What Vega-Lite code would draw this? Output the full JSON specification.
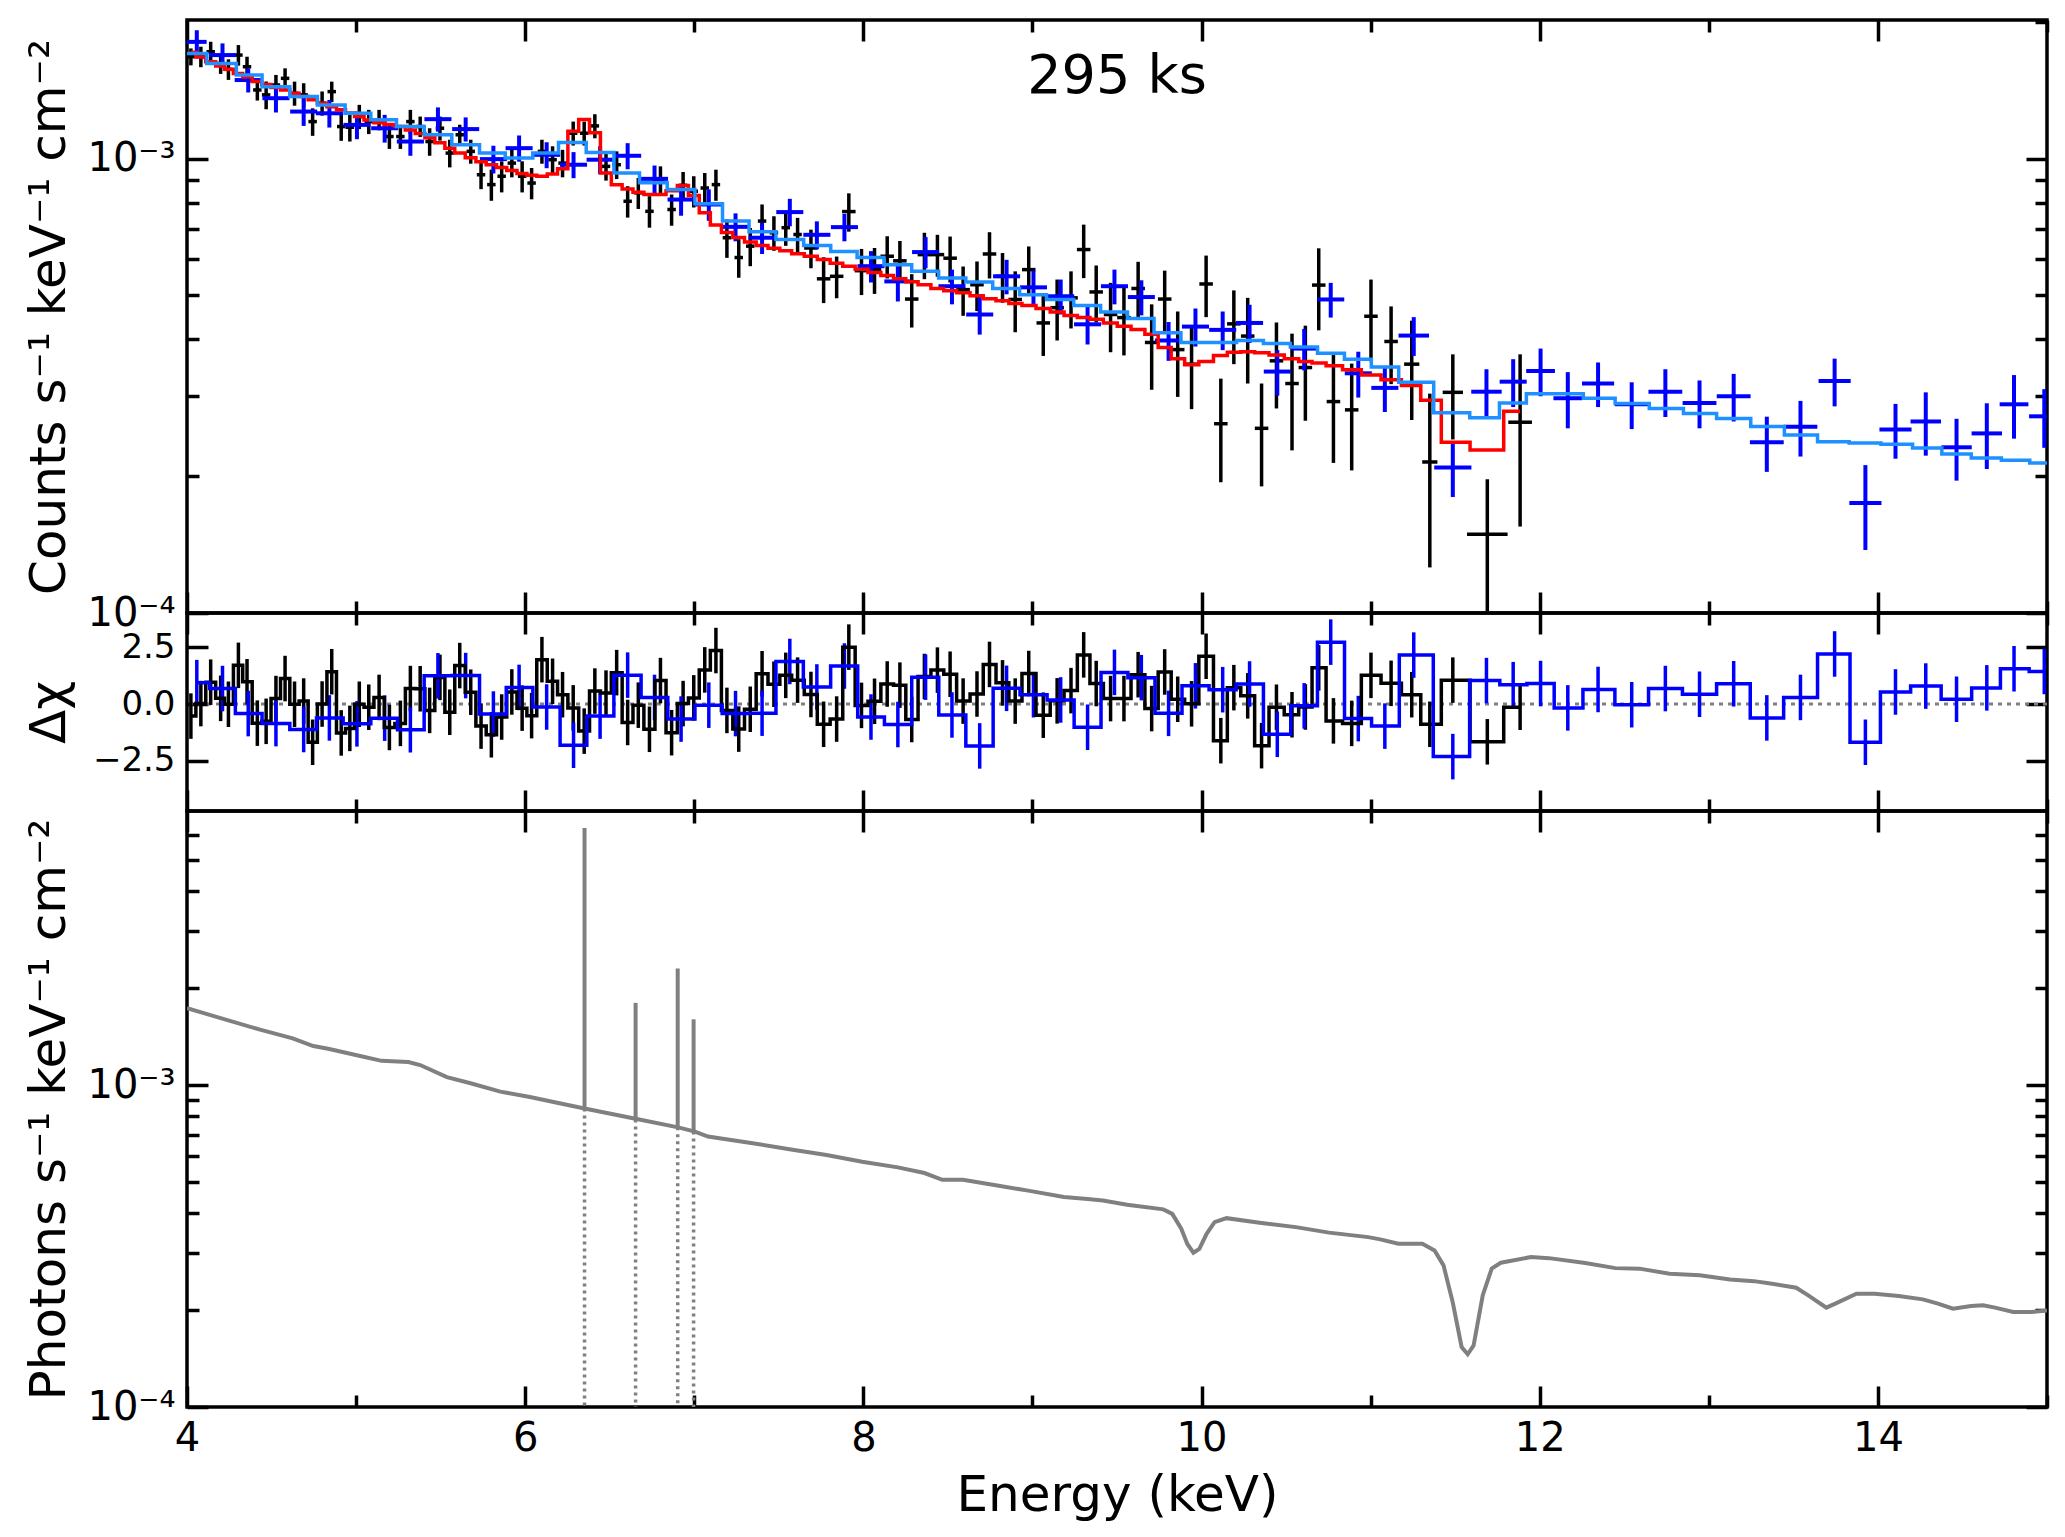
{
  "$schema": "https://vega.github.io/schema/vega-lite/v6.json",
  "background": "white",
  "padding": {"left": 22, "top": 16, "right": 4, "bottom": 4},
  "bounds": "flush",
  "spacing": 0,
  "config": {
    "view": {"stroke": "black", "strokeWidth": 3.5},
    "font": "DejaVu Sans",
    "axis": {
      "domain": false, "grid": false,
      "tickColor": "black", "tickWidth": 3.5,
      "labelFont": "DejaVu Sans", "labelFontSize": 40, "labelColor": "black",
      "titleFont": "DejaVu Sans", "titleFontSize": 50, "titleFontWeight": "normal", "titleColor": "black",
      "labelOverlap": false, "labelFlush": false, "labelBound": false,
      "minExtent": 0
    }
  },
  "datasets": {
    "black": [
      {"x":4.023,"y":0.001677,"e":0.000072,"xe":0.025,"m":0.001715,"r":-0.53,"re":1},
      {"x":4.082,"y":0.001677,"e":0.000087,"xe":0.025,"m":0.001675,"r":0.02,"re":1},
      {"x":4.140,"y":0.001720,"e":0.000089,"xe":0.025,"m":0.001635,"r":0.96,"re":1},
      {"x":4.199,"y":0.001621,"e":0.000084,"xe":0.025,"m":0.001600,"r":0.25,"re":1},
      {"x":4.245,"y":0.001573,"e":0.000082,"xe":0.025,"m":0.001574,"r":-0.01,"re":1},
      {"x":4.304,"y":0.001691,"e":0.000088,"xe":0.025,"m":0.001541,"r":1.70,"re":1},
      {"x":4.355,"y":0.001594,"e":0.000083,"xe":0.025,"m":0.001513,"r":0.98,"re":1},
      {"x":4.416,"y":0.001417,"e":0.000074,"xe":0.025,"m":0.001479,"r":-0.84,"re":1},
      {"x":4.468,"y":0.001382,"e":0.000097,"xe":0.025,"m":0.001456,"r":-0.76,"re":1},
      {"x":4.526,"y":0.001453,"e":0.000076,"xe":0.025,"m":0.001435,"r":0.24,"re":1},
      {"x":4.580,"y":0.001503,"e":0.000078,"xe":0.025,"m":0.001416,"r":1.12,"re":1},
      {"x":4.636,"y":0.001393,"e":0.000085,"xe":0.025,"m":0.001394,"r":-0.01,"re":1},
      {"x":4.690,"y":0.001382,"e":0.000084,"xe":0.025,"m":0.001371,"r":0.13,"re":1},
      {"x":4.743,"y":0.001207,"e":0.000084,"xe":0.025,"m":0.001348,"r":-1.68,"re":1},
      {"x":4.799,"y":0.001325,"e":0.000081,"xe":0.025,"m":0.001325,"r":0.00,"re":1},
      {"x":4.856,"y":0.001405,"e":0.000073,"xe":0.025,"m":0.001301,"r":1.42,"re":1},
      {"x":4.912,"y":0.001177,"e":0.000082,"xe":0.025,"m":0.001281,"r":-1.27,"re":1},
      {"x":4.963,"y":0.001173,"e":0.000082,"xe":0.025,"m":0.001261,"r":-1.07,"re":1},
      {"x":5.019,"y":0.001238,"e":0.000076,"xe":0.025,"m":0.001239,"r":-0.01,"re":1},
      {"x":5.075,"y":0.001207,"e":0.000074,"xe":0.025,"m":0.001217,"r":-0.14,"re":1},
      {"x":5.136,"y":0.001218,"e":0.000063,"xe":0.025,"m":0.001200,"r":0.29,"re":1},
      {"x":5.197,"y":0.001119,"e":0.000068,"xe":0.025,"m":0.001189,"r":-1.03,"re":1},
      {"x":5.262,"y":0.001119,"e":0.000068,"xe":0.025,"m":0.001177,"r":-0.85,"re":1},
      {"x":5.321,"y":0.001207,"e":0.000074,"xe":0.025,"m":0.001157,"r":0.68,"re":1},
      {"x":5.379,"y":0.001177,"e":0.000061,"xe":0.025,"m":0.001136,"r":0.67,"re":1},
      {"x":5.435,"y":0.001091,"e":0.000076,"xe":0.025,"m":0.001112,"r":-0.28,"re":1},
      {"x":5.496,"y":0.001167,"e":0.000071,"xe":0.025,"m":0.001084,"r":1.17,"re":1},
      {"x":5.554,"y":0.001029,"e":0.000072,"xe":0.025,"m":0.001055,"r":-0.36,"re":1},
      {"x":5.613,"y":0.001129,"e":0.000059,"xe":0.025,"m":0.001029,"r":1.69,"re":1},
      {"x":5.678,"y":0.001038,"e":0.000063,"xe":0.025,"m":0.001005,"r":0.52,"re":1},
      {"x":5.739,"y":0.000922,"e":0.000065,"xe":0.025,"m":0.000985,"r":-0.97,"re":1},
      {"x":5.800,"y":0.000877,"e":0.000069,"xe":0.025,"m":0.000970,"r":-1.35,"re":1},
      {"x":5.861,"y":0.000915,"e":0.000072,"xe":0.025,"m":0.000956,"r":-0.57,"re":1},
      {"x":5.921,"y":0.000978,"e":0.000068,"xe":0.025,"m":0.000942,"r":0.53,"re":1},
      {"x":5.982,"y":0.000915,"e":0.000072,"xe":0.025,"m":0.000928,"r":-0.18,"re":1},
      {"x":6.038,"y":0.000884,"e":0.000070,"xe":0.025,"m":0.000920,"r":-0.51,"re":1},
      {"x":6.099,"y":0.001038,"e":0.000063,"xe":0.025,"m":0.000915,"r":1.95,"re":1},
      {"x":6.162,"y":0.000995,"e":0.000070,"xe":0.025,"m":0.000925,"r":1.00,"re":1},
      {"x":6.221,"y":0.000978,"e":0.000068,"xe":0.025,"m":0.000950,"r":0.41,"re":1},
      {"x":6.284,"y":0.001138,"e":0.000069,"xe":0.025,"m":0.001150,"r":-0.17,"re":1},
      {"x":6.349,"y":0.001138,"e":0.000069,"xe":0.025,"m":0.001220,"r":-1.19,"re":1},
      {"x":6.412,"y":0.001181,"e":0.000072,"xe":0.025,"m":0.001140,"r":0.57,"re":1},
      {"x":6.478,"y":0.000962,"e":0.000067,"xe":0.025,"m":0.000930,"r":0.48,"re":1},
      {"x":6.541,"y":0.000970,"e":0.000068,"xe":0.025,"m":0.000876,"r":1.38,"re":1},
      {"x":6.606,"y":0.000806,"e":0.000064,"xe":0.025,"m":0.000858,"r":-0.81,"re":1},
      {"x":6.669,"y":0.000841,"e":0.000066,"xe":0.025,"m":0.000844,"r":-0.05,"re":1},
      {"x":6.735,"y":0.000766,"e":0.000061,"xe":0.025,"m":0.000834,"r":-1.11,"re":1},
      {"x":6.800,"y":0.000899,"e":0.000063,"xe":0.025,"m":0.000834,"r":1.03,"re":1},
      {"x":6.866,"y":0.000773,"e":0.000061,"xe":0.025,"m":0.000850,"r":-1.26,"re":1},
      {"x":6.934,"y":0.000874,"e":0.000061,"xe":0.025,"m":0.000873,"r":0.02,"re":1},
      {"x":6.997,"y":0.000848,"e":0.000067,"xe":0.025,"m":0.000830,"r":0.27,"re":1},
      {"x":7.062,"y":0.000862,"e":0.000068,"xe":0.025,"m":0.000760,"r":1.50,"re":1},
      {"x":7.128,"y":0.000877,"e":0.000069,"xe":0.025,"m":0.000715,"r":2.35,"re":1},
      {"x":7.193,"y":0.000670,"e":0.000065,"xe":0.025,"m":0.000688,"r":-0.28,"re":1},
      {"x":7.263,"y":0.000606,"e":0.000059,"xe":0.025,"m":0.000671,"r":-1.10,"re":1},
      {"x":7.331,"y":0.000642,"e":0.000062,"xe":0.025,"m":0.000656,"r":-0.23,"re":1},
      {"x":7.401,"y":0.000729,"e":0.000064,"xe":0.025,"m":0.000644,"r":1.33,"re":1},
      {"x":7.471,"y":0.000687,"e":0.000060,"xe":0.025,"m":0.000635,"r":0.87,"re":1},
      {"x":7.541,"y":0.000705,"e":0.000062,"xe":0.025,"m":0.000627,"r":1.26,"re":1},
      {"x":7.611,"y":0.000681,"e":0.000060,"xe":0.025,"m":0.000618,"r":1.05,"re":1},
      {"x":7.690,"y":0.000636,"e":0.000062,"xe":0.04,"m":0.000610,"r":0.42,"re":1},
      {"x":7.765,"y":0.000544,"e":0.000063,"xe":0.04,"m":0.000600,"r":-0.89,"re":1},
      {"x":7.842,"y":0.000551,"e":0.000058,"xe":0.04,"m":0.000589,"r":-0.66,"re":1},
      {"x":7.914,"y":0.000765,"e":0.000074,"xe":0.04,"m":0.000580,"r":2.50,"re":1},
      {"x":7.989,"y":0.000567,"e":0.000066,"xe":0.04,"m":0.000571,"r":-0.06,"re":1},
      {"x":8.066,"y":0.000570,"e":0.000066,"xe":0.04,"m":0.000562,"r":0.12,"re":1},
      {"x":8.141,"y":0.000610,"e":0.000065,"xe":0.04,"m":0.000553,"r":0.88,"re":1},
      {"x":8.216,"y":0.000596,"e":0.000063,"xe":0.04,"m":0.000544,"r":0.83,"re":1},
      {"x":8.286,"y":0.000491,"e":0.000066,"xe":0.04,"m":0.000536,"r":-0.68,"re":1},
      {"x":8.361,"y":0.000615,"e":0.000072,"xe":0.04,"m":0.000528,"r":1.21,"re":1},
      {"x":8.438,"y":0.000615,"e":0.000065,"xe":0.04,"m":0.000518,"r":1.49,"re":1},
      {"x":8.513,"y":0.000604,"e":0.000070,"xe":0.04,"m":0.000512,"r":1.31,"re":1},
      {"x":8.590,"y":0.000515,"e":0.000064,"xe":0.04,"m":0.000507,"r":0.13,"re":1},
      {"x":8.672,"y":0.000528,"e":0.000066,"xe":0.04,"m":0.000499,"r":0.44,"re":1},
      {"x":8.746,"y":0.000617,"e":0.000072,"xe":0.04,"m":0.000492,"r":1.74,"re":1},
      {"x":8.823,"y":0.000551,"e":0.000069,"xe":0.04,"m":0.000487,"r":0.93,"re":1},
      {"x":8.898,"y":0.000490,"e":0.000075,"xe":0.04,"m":0.000480,"r":0.13,"re":1},
      {"x":8.978,"y":0.000570,"e":0.000071,"xe":0.04,"m":0.000475,"r":1.34,"re":1},
      {"x":9.064,"y":0.000435,"e":0.000067,"xe":0.04,"m":0.000468,"r":-0.49,"re":1},
      {"x":9.146,"y":0.000470,"e":0.000072,"xe":0.04,"m":0.000460,"r":0.14,"re":1},
      {"x":9.228,"y":0.000494,"e":0.000071,"xe":0.04,"m":0.000452,"r":0.59,"re":1},
      {"x":9.303,"y":0.000631,"e":0.000085,"xe":0.04,"m":0.000447,"r":2.16,"re":1},
      {"x":9.377,"y":0.000509,"e":0.000073,"xe":0.04,"m":0.000443,"r":0.90,"re":1},
      {"x":9.462,"y":0.000454,"e":0.000079,"xe":0.04,"m":0.000435,"r":0.24,"re":1},
      {"x":9.541,"y":0.000447,"e":0.000078,"xe":0.04,"m":0.000428,"r":0.24,"re":1},
      {"x":9.625,"y":0.000518,"e":0.000075,"xe":0.04,"m":0.000421,"r":1.29,"re":1},
      {"x":9.705,"y":0.000394,"e":0.000084,"xe":0.04,"m":0.000411,"r":-0.20,"re":1},
      {"x":9.782,"y":0.000491,"e":0.000076,"xe":0.04,"m":0.000384,"r":1.41,"re":1},
      {"x":9.859,"y":0.000380,"e":0.000081,"xe":0.04,"m":0.000363,"r":0.21,"re":1},
      {"x":9.941,"y":0.000353,"e":0.000072,"xe":0.04,"m":0.000352,"r":0.01,"re":1},
      {"x":10.027,"y":0.000530,"e":0.000082,"xe":0.04,"m":0.000358,"r":2.10,"re":1},
      {"x":10.114,"y":0.000261,"e":0.000067,"xe":0.04,"m":0.000369,"r":-1.61,"re":1},
      {"x":10.191,"y":0.000433,"e":0.000080,"xe":0.04,"m":0.000375,"r":0.72,"re":1},
      {"x":10.273,"y":0.000407,"e":0.000087,"xe":0.04,"m":0.000376,"r":0.36,"re":1},
      {"x":10.355,"y":0.000255,"e":0.000065,"xe":0.04,"m":0.000374,"r":-1.83,"re":1},
      {"x":10.443,"y":0.000359,"e":0.000077,"xe":0.04,"m":0.000370,"r":-0.14,"re":1},
      {"x":10.535,"y":0.000320,"e":0.000092,"xe":0.04,"m":0.000363,"r":-0.47,"re":1},
      {"x":10.614,"y":0.000347,"e":0.000082,"xe":0.04,"m":0.000358,"r":-0.13,"re":1},
      {"x":10.693,"y":0.000527,"e":0.000108,"xe":0.04,"m":0.000355,"r":1.59,"re":1},
      {"x":10.780,"y":0.000292,"e":0.000078,"xe":0.04,"m":0.000350,"r":-0.74,"re":1},
      {"x":10.888,"y":0.000280,"e":0.000074,"xe":0.04,"m":0.000343,"r":-0.85,"re":1},
      {"x":11.002,"y":0.000450,"e":0.000092,"xe":0.04,"m":0.000334,"r":1.26,"re":1},
      {"x":11.121,"y":0.000396,"e":0.000077,"xe":0.04,"m":0.000326,"r":0.91,"re":1},
      {"x":11.243,"y":0.000353,"e":0.000087,"xe":0.045,"m":0.000317,"r":0.41,"re":1},
      {"x":11.350,"y":0.000215,"e":0.000089,"xe":0.045,"m":0.000294,"r":-0.89,"re":1},
      {"x":11.486,"y":0.000306,"e":0.000065,"xe":0.06,"m":0.0002375,"r":1.05,"re":1},
      {"x":11.690,"y":0.000149,"e":0.000048,"xe":0.12,"m":0.0002285,"r":-1.66,"re":1},
      {"x":11.884,"y":0.000263,"e":0.000108,"xe":0.07,"m":0.000278,"r":-0.14,"re":1}
    ],
    "blue": [
      {"x":4.058,"y":0.001808,"e":0.000110,"xe":0.058,"r":0.94,"re":1},
      {"x":4.210,"y":0.001691,"e":0.000103,"xe":0.08,"r":0.68,"re":1},
      {"x":4.362,"y":0.001490,"e":0.000091,"xe":0.08,"r":-0.42,"re":1},
      {"x":4.526,"y":0.001359,"e":0.000095,"xe":0.08,"r":-0.86,"re":1},
      {"x":4.690,"y":0.001270,"e":0.000089,"xe":0.08,"r":-1.12,"re":1},
      {"x":4.842,"y":0.001259,"e":0.000088,"xe":0.08,"r":-0.61,"re":1},
      {"x":5.005,"y":0.001187,"e":0.000083,"xe":0.08,"r":-0.87,"re":1},
      {"x":5.169,"y":0.001167,"e":0.000082,"xe":0.08,"r":-0.62,"re":1},
      {"x":5.321,"y":0.001091,"e":0.000076,"xe":0.08,"r":-1.13,"re":1},
      {"x":5.484,"y":0.001222,"e":0.000075,"xe":0.08,"r":1.24,"re":1},
      {"x":5.648,"y":0.001162,"e":0.000071,"xe":0.08,"r":1.25,"re":1},
      {"x":5.812,"y":0.000998,"e":0.000070,"xe":0.08,"r":-0.44,"re":1},
      {"x":5.964,"y":0.001055,"e":0.000070,"xe":0.08,"r":0.73,"re":1},
      {"x":6.127,"y":0.001020,"e":0.000067,"xe":0.08,"r":-0.13,"re":1},
      {"x":6.286,"y":0.000970,"e":0.000064,"xe":0.08,"r":-1.81,"re":1},
      {"x":6.443,"y":0.000995,"e":0.000070,"xe":0.08,"r":-0.53,"re":1},
      {"x":6.606,"y":0.001015,"e":0.000067,"xe":0.08,"r":1.27,"re":1},
      {"x":6.765,"y":0.000903,"e":0.000063,"xe":0.08,"r":0.29,"re":1},
      {"x":6.922,"y":0.000813,"e":0.000064,"xe":0.08,"r":-0.66,"re":1},
      {"x":7.086,"y":0.000793,"e":0.000063,"xe":0.08,"r":-0.05,"re":1},
      {"x":7.244,"y":0.000708,"e":0.000050,"xe":0.08,"r":-0.42,"re":1},
      {"x":7.401,"y":0.000670,"e":0.000053,"xe":0.08,"r":-0.40,"re":1},
      {"x":7.565,"y":0.000763,"e":0.000053,"xe":0.08,"r":1.87,"re":1},
      {"x":7.725,"y":0.000680,"e":0.000048,"xe":0.08,"r":0.75,"re":1},
      {"x":7.888,"y":0.000707,"e":0.000049,"xe":0.08,"r":1.67,"re":1},
      {"x":8.045,"y":0.000580,"e":0.000046,"xe":0.08,"r":-0.57,"re":1},
      {"x":8.204,"y":0.000537,"e":0.000052,"xe":0.08,"r":-0.90,"re":1},
      {"x":8.368,"y":0.000623,"e":0.000049,"xe":0.08,"r":1.18,"re":1},
      {"x":8.524,"y":0.000524,"e":0.000046,"xe":0.08,"r":-0.48,"re":1},
      {"x":8.688,"y":0.000454,"e":0.000044,"xe":0.08,"r":-1.84,"re":1},
      {"x":8.847,"y":0.000551,"e":0.000048,"xe":0.08,"r":0.69,"re":1},
      {"x":9.006,"y":0.000521,"e":0.000046,"xe":0.08,"r":0.41,"re":1},
      {"x":9.167,"y":0.000498,"e":0.000044,"xe":0.08,"r":0.18,"re":1},
      {"x":9.326,"y":0.000432,"e":0.000042,"xe":0.08,"r":-1.02,"re":1},
      {"x":9.485,"y":0.000524,"e":0.000046,"xe":0.08,"r":1.39,"re":1},
      {"x":9.644,"y":0.000496,"e":0.000044,"xe":0.08,"r":1.16,"re":1},
      {"x":9.805,"y":0.000398,"e":0.000039,"xe":0.08,"r":-0.41,"re":1},
      {"x":9.964,"y":0.000427,"e":0.000041,"xe":0.08,"r":0.80,"re":1},
      {"x":10.125,"y":0.000420,"e":0.000041,"xe":0.08,"r":0.63,"re":1},
      {"x":10.284,"y":0.000435,"e":0.000042,"xe":0.08,"r":0.88,"re":1},
      {"x":10.448,"y":0.000340,"e":0.000039,"xe":0.08,"r":-1.33,"re":1},
      {"x":10.607,"y":0.000382,"e":0.000040,"xe":0.08,"r":-0.08,"re":1},
      {"x":10.764,"y":0.000490,"e":0.000043,"xe":0.08,"r":2.72,"re":1},
      {"x":10.927,"y":0.000337,"e":0.000039,"xe":0.08,"r":-0.64,"re":1},
      {"x":11.084,"y":0.000313,"e":0.000036,"xe":0.08,"r":-0.97,"re":1},
      {"x":11.255,"y":0.000408,"e":0.000040,"xe":0.09,"r":2.15,"re":1},
      {"x":11.486,"y":0.000209,"e":0.000029,"xe":0.11,"r":-2.31,"re":1},
      {"x":11.685,"y":0.000307,"e":0.000037,"xe":0.09,"r":1.03,"re":1},
      {"x":11.843,"y":0.000323,"e":0.000039,"xe":0.08,"r":0.85,"re":1},
      {"x":12.005,"y":0.000341,"e":0.000041,"xe":0.085,"r":0.90,"re":1},
      {"x":12.166,"y":0.000297,"e":0.000042,"xe":0.085,"r":-0.17,"re":1},
      {"x":12.345,"y":0.000320,"e":0.000036,"xe":0.095,"r":0.64,"re":1},
      {"x":12.544,"y":0.000288,"e":0.000034,"xe":0.1,"r":-0.03,"re":1},
      {"x":12.743,"y":0.000307,"e":0.000037,"xe":0.1,"r":0.68,"re":1},
      {"x":12.945,"y":0.000290,"e":0.000035,"xe":0.1,"r":0.43,"re":1},
      {"x":13.147,"y":0.000300,"e":0.000036,"xe":0.1,"r":0.89,"re":1},
      {"x":13.343,"y":0.0002375,"e":0.000033,"xe":0.1,"r":-0.61,"re":1},
      {"x":13.542,"y":0.000257,"e":0.000036,"xe":0.1,"r":0.29,"re":1},
      {"x":13.744,"y":0.000324,"e":0.000039,"xe":0.095,"r":2.20,"re":1},
      {"x":13.926,"y":0.0001746,"e":0.000037,"xe":0.095,"r":-1.68,"re":1},
      {"x":14.104,"y":0.0002536,"e":0.000035,"xe":0.095,"r":0.53,"re":1},
      {"x":14.283,"y":0.000264,"e":0.000042,"xe":0.09,"r":0.79,"re":1},
      {"x":14.465,"y":0.0002316,"e":0.000036,"xe":0.09,"r":0.21,"re":1},
      {"x":14.644,"y":0.0002485,"e":0.000041,"xe":0.09,"r":0.71,"re":1},
      {"x":14.805,"y":0.000288,"e":0.000046,"xe":0.085,"r":1.55,"re":1},
      {"x":14.984,"y":0.000271,"e":0.000040,"xe":0.09,"r":1.43,"re":1}
    ],
    "bluemodel": [
      {"x":4.0,"y":0.001705},{"x":4.117,"y":0.001621},{"x":4.292,"y":0.001528},{"x":4.444,"y":0.001441},
      {"x":4.608,"y":0.001370},{"x":4.771,"y":0.001313},{"x":4.935,"y":0.001259},{"x":5.087,"y":0.001218},
      {"x":5.239,"y":0.001177},{"x":5.403,"y":0.001129},{"x":5.566,"y":0.001073},{"x":5.730,"y":0.001029},
      {"x":5.882,"y":0.001004},{"x":6.045,"y":0.001029},{"x":6.197,"y":0.001086},{"x":6.361,"y":0.001032},
      {"x":6.525,"y":0.000930},{"x":6.676,"y":0.000885},{"x":6.840,"y":0.000855},{"x":7.004,"y":0.000796},
      {"x":7.167,"y":0.000729},{"x":7.324,"y":0.000691},{"x":7.483,"y":0.000664},{"x":7.647,"y":0.000644},
      {"x":7.807,"y":0.000625},{"x":7.963,"y":0.000606},{"x":8.122,"y":0.000584},{"x":8.286,"y":0.000565},
      {"x":8.445,"y":0.000546},{"x":8.606,"y":0.000535},{"x":8.765,"y":0.000518},{"x":8.924,"y":0.000502},
      {"x":9.083,"y":0.000490},{"x":9.244,"y":0.000475},{"x":9.403,"y":0.000460},{"x":9.562,"y":0.000445},
      {"x":9.719,"y":0.000414},{"x":9.878,"y":0.000394},{"x":10.043,"y":0.000394},{"x":10.207,"y":0.000398},
      {"x":10.366,"y":0.000392},{"x":10.525,"y":0.000385},{"x":10.686,"y":0.000373},{"x":10.845,"y":0.000362},
      {"x":11.004,"y":0.000348},{"x":11.166,"y":0.000322},{"x":11.373,"y":0.000276},{"x":11.586,"y":0.000269},
      {"x":11.762,"y":0.000290},{"x":11.921,"y":0.000304},{"x":12.090,"y":0.000304},{"x":12.258,"y":0.000297},
      {"x":12.446,"y":0.000289},{"x":12.648,"y":0.000282},{"x":12.850,"y":0.000275},{"x":13.046,"y":0.000268},
      {"x":13.248,"y":0.0002575},{"x":13.447,"y":0.0002465},{"x":13.643,"y":0.0002383},{"x":13.830,"y":0.0002367},
      {"x":14.018,"y":0.0002351},{"x":14.205,"y":0.0002308},{"x":14.378,"y":0.000224},{"x":14.552,"y":0.0002195},
      {"x":14.730,"y":0.0002169},{"x":14.898,"y":0.000214},{"x":15.0,"y":0.000214}
    ],
    "continuum": [
      {"x":4.0,"y":0.001734},{"x":4.204,"y":0.001612},{"x":4.432,"y":0.001486},{"x":4.625,"y":0.001396},
      {"x":4.747,"y":0.001322},{"x":4.835,"y":0.001297},{"x":5.011,"y":0.001235},{"x":5.151,"y":0.001189},
      {"x":5.309,"y":0.001179},{"x":5.379,"y":0.001154},{"x":5.537,"y":0.001058},{"x":5.677,"y":0.001013},
      {"x":5.853,"y":0.000954},{"x":6.028,"y":0.000918},{"x":6.168,"y":0.000886},{"x":6.351,"y":0.000846},
      {"x":6.660,"y":0.000784},{"x":6.905,"y":0.000739},{"x":7.004,"y":0.000717},{"x":7.081,"y":0.000692},
      {"x":7.326,"y":0.000662},{"x":7.572,"y":0.000631},{"x":7.782,"y":0.000606},{"x":7.993,"y":0.000578},
      {"x":8.204,"y":0.000555},{"x":8.361,"y":0.000533},{"x":8.467,"y":0.000508},{"x":8.589,"y":0.000508},
      {"x":8.765,"y":0.000490},{"x":8.975,"y":0.000470},{"x":9.186,"y":0.000449},{"x":9.326,"y":0.000443},
      {"x":9.417,"y":0.000438},{"x":9.560,"y":0.000425},{"x":9.774,"y":0.000411},{"x":9.827,"y":0.000398},
      {"x":9.880,"y":0.000358},{"x":9.916,"y":0.000321},{"x":9.952,"y":0.0003015},{"x":9.987,"y":0.000310},
      {"x":10.030,"y":0.000345},{"x":10.077,"y":0.000375},{"x":10.148,"y":0.000386},{"x":10.344,"y":0.0003737},
      {"x":10.558,"y":0.000362},{"x":10.754,"y":0.000348},{"x":10.986,"y":0.000337},{"x":11.057,"y":0.0003317},
      {"x":11.164,"y":0.0003215},{"x":11.306,"y":0.0003215},{"x":11.378,"y":0.0003065},{"x":11.431,"y":0.0002754},
      {"x":11.485,"y":0.000212},{"x":11.538,"y":0.0001536},{"x":11.574,"y":0.0001458},{"x":11.609,"y":0.0001554},
      {"x":11.663,"y":0.0002222},{"x":11.716,"y":0.000269},{"x":11.770,"y":0.0002806},{"x":11.948,"y":0.0002922},
      {"x":12.055,"y":0.000290},{"x":12.269,"y":0.000280},{"x":12.447,"y":0.000270},{"x":12.590,"y":0.000269},
      {"x":12.768,"y":0.0002595},{"x":12.946,"y":0.0002564},{"x":13.125,"y":0.000249},{"x":13.267,"y":0.000246},
      {"x":13.374,"y":0.0002415},{"x":13.517,"y":0.0002347},{"x":13.588,"y":0.0002222},{"x":13.695,"y":0.0002035},
      {"x":13.748,"y":0.0002094},{"x":13.873,"y":0.0002249},{"x":13.980,"y":0.0002249},{"x":14.123,"y":0.0002212},
      {"x":14.266,"y":0.0002159},{"x":14.355,"y":0.0002094},{"x":14.444,"y":0.0002021},{"x":14.551,"y":0.000206},
      {"x":14.622,"y":0.0002069},{"x":14.693,"y":0.0002035},{"x":14.800,"y":0.0001972},{"x":14.907,"y":0.0001972},
      {"x":15.0,"y":0.0001996}
    ],
    "lines": [
      {"x":6.351,"c":0.000846,"p":0.00629},
      {"x":6.653,"c":0.000782,"p":0.00180},
      {"x":6.902,"c":0.000739,"p":0.00230},
      {"x":6.996,"c":0.000717,"p":0.00160}
    ]
  },
  "vconcat": [
    {
      "width": 1860,
      "height": 593,
      "resolve": {"axis": {"x": "independent", "y": "independent"}},
      "layer": [
        {
          "data": {"name": "black"},
          "mark": {"type": "errorbar", "color": "black", "thickness": 3.5, "clip": true},
          "encoding": {
            "x": {"field": "x", "type": "quantitative", "scale": {"domain": [4, 15], "nice": false, "zero": false}, "axis": null},
            "y": {"field": "y", "type": "quantitative", "scale": {"type": "log", "domain": [0.0001, 0.00202], "nice": false}, "axis": null},
            "yError": {"field": "e"}
          }
        },
        {
          "data": {"name": "black"},
          "mark": {"type": "errorbar", "color": "black", "thickness": 3.5, "clip": true},
          "encoding": {
            "x": {"field": "x", "type": "quantitative", "scale": {"domain": [4, 15], "nice": false, "zero": false}, "axis": null},
            "xError": {"field": "xe"},
            "y": {"field": "y", "type": "quantitative", "scale": {"type": "log", "domain": [0.0001, 0.00202], "nice": false}, "axis": null}
          }
        },
        {
          "data": {"name": "blue"},
          "mark": {"type": "errorbar", "color": "#0000ff", "thickness": 4, "clip": true},
          "encoding": {
            "x": {"field": "x", "type": "quantitative", "scale": {"domain": [4, 15], "nice": false, "zero": false}, "axis": null},
            "y": {"field": "y", "type": "quantitative", "scale": {"type": "log", "domain": [0.0001, 0.00202], "nice": false}, "axis": null},
            "yError": {"field": "e"}
          }
        },
        {
          "data": {"name": "blue"},
          "mark": {"type": "errorbar", "color": "#0000ff", "thickness": 4, "clip": true},
          "encoding": {
            "x": {"field": "x", "type": "quantitative", "scale": {"domain": [4, 15], "nice": false, "zero": false}, "axis": null},
            "xError": {"field": "xe"},
            "y": {"field": "y", "type": "quantitative", "scale": {"type": "log", "domain": [0.0001, 0.00202], "nice": false}, "axis": null}
          }
        },
        {
          "data": {"name": "black"},
          "mark": {"type": "line", "color": "#ff0000", "strokeWidth": 3.5, "interpolate": "step", "clip": true},
          "encoding": {
            "x": {
              "field": "x", "type": "quantitative",
              "scale": {"domain": [4, 15], "nice": false, "zero": false},
              "axis": {"orient": "bottom", "values": [4,5,6,7,8,9,10,11,12,13,14,15], "labels": false, "title": null,
                       "tickSize": {"condition": {"test": "datum.value % 2 == 0", "value": -21}, "value": -12}}
            },
            "y": {
              "field": "m", "type": "quantitative",
              "scale": {"type": "log", "domain": [0.0001, 0.00202], "nice": false},
              "axis": {"orient": "left",
                       "values": [0.0001,0.0002,0.0003,0.0004,0.0005,0.0006,0.0007,0.0008,0.0009,0.001],
                       "labelExpr": "datum.value == 0.001 ? '10⁻³' : (datum.value == 0.0001 ? '10⁻⁴' : '')",
                       "labelPadding": 33,
                       "tickSize": {"condition": {"test": "datum.value == 0.001 || datum.value == 0.0001", "value": -21}, "value": -12},
                       "title": "Counts s⁻¹ keV⁻¹ cm⁻²", "titleX": -138, "titleBaseline": "middle"}
            }
          }
        },
        {
          "data": {"name": "bluemodel"},
          "mark": {"type": "line", "color": "#1e90ff", "strokeWidth": 3.5, "interpolate": "step-after", "clip": true},
          "encoding": {
            "x": {
              "field": "x", "type": "quantitative",
              "scale": {"domain": [4, 15], "nice": false, "zero": false},
              "axis": {"orient": "top", "values": [4,5,6,7,8,9,10,11,12,13,14,15], "labels": false, "title": null,
                       "tickSize": {"condition": {"test": "datum.value % 2 == 0", "value": -21}, "value": -12}}
            },
            "y": {
              "field": "y", "type": "quantitative",
              "scale": {"type": "log", "domain": [0.0001, 0.00202], "nice": false},
              "axis": {"orient": "right",
                       "values": [0.0001,0.0002,0.0003,0.0004,0.0005,0.0006,0.0007,0.0008,0.0009,0.001,0.002],
                       "labels": false, "title": null,
                       "tickSize": {"condition": {"test": "datum.value == 0.001 || datum.value == 0.0001", "value": -21}, "value": -12}}
            }
          }
        },
        {
          "data": {"values": [{}]},
          "mark": {"type": "text", "text": "295 ks", "fontSize": 54, "font": "DejaVu Sans", "color": "black", "align": "center", "baseline": "middle"},
          "encoding": {
            "x": {"datum": 9.5, "type": "quantitative", "scale": {"domain": [4, 15], "nice": false, "zero": false}, "axis": null},
            "y": {"datum": 0.00151, "type": "quantitative", "scale": {"type": "log", "domain": [0.0001, 0.00202], "nice": false}, "axis": null}
          }
        }
      ]
    },
    {
      "width": 1860,
      "height": 198,
      "resolve": {"axis": {"x": "independent", "y": "independent"}},
      "layer": [
        {
          "data": {"values": [{}]},
          "mark": {"type": "rule", "color": "#808080", "strokeWidth": 3, "strokeDash": [4, 5]},
          "encoding": {
            "y": {"datum": 0, "type": "quantitative", "scale": {"domain": [-4.7, 4.0], "nice": false, "zero": false}, "axis": null}
          }
        },
        {
          "data": {"name": "black"},
          "mark": {"type": "errorbar", "color": "black", "thickness": 3.5, "clip": true},
          "encoding": {
            "x": {"field": "x", "type": "quantitative", "scale": {"domain": [4, 15], "nice": false, "zero": false}, "axis": null},
            "y": {"field": "r", "type": "quantitative", "scale": {"domain": [-4.7, 4.0], "nice": false, "zero": false}, "axis": null},
            "yError": {"field": "re"}
          }
        },
        {
          "data": {"name": "blue"},
          "mark": {"type": "errorbar", "color": "#0000ff", "thickness": 3.5, "clip": true},
          "encoding": {
            "x": {"field": "x", "type": "quantitative", "scale": {"domain": [4, 15], "nice": false, "zero": false}, "axis": null},
            "y": {"field": "r", "type": "quantitative", "scale": {"domain": [-4.7, 4.0], "nice": false, "zero": false}, "axis": null},
            "yError": {"field": "re"}
          }
        },
        {
          "data": {"name": "black"},
          "mark": {"type": "line", "color": "black", "strokeWidth": 3.5, "interpolate": "step", "clip": true},
          "encoding": {
            "x": {
              "field": "x", "type": "quantitative",
              "scale": {"domain": [4, 15], "nice": false, "zero": false},
              "axis": {"orient": "bottom", "values": [4,5,6,7,8,9,10,11,12,13,14,15], "labels": false, "title": null,
                       "tickSize": {"condition": {"test": "datum.value % 2 == 0", "value": -21}, "value": -12}}
            },
            "y": {
              "field": "r", "type": "quantitative",
              "scale": {"domain": [-4.7, 4.0], "nice": false, "zero": false},
              "axis": {"orient": "left", "values": [-2.5, 0, 2.5],
                       "labelExpr": "datum.value == 0 ? '0.0' : (datum.value > 0 ? '2.5' : '−2.5')",
                       "labelFontSize": 34, "labelPadding": 33, "tickSize": -21,
                       "title": "Δχ", "titleX": -138, "titleBaseline": "middle"}
            }
          }
        },
        {
          "data": {"name": "blue"},
          "mark": {"type": "line", "color": "#0000ff", "strokeWidth": 3.5, "interpolate": "step", "clip": true},
          "encoding": {
            "x": {
              "field": "x", "type": "quantitative",
              "scale": {"domain": [4, 15], "nice": false, "zero": false},
              "axis": {"orient": "top", "values": [4,5,6,7,8,9,10,11,12,13,14,15], "labels": false, "title": null,
                       "tickSize": {"condition": {"test": "datum.value % 2 == 0", "value": -21}, "value": -12}}
            },
            "y": {
              "field": "r", "type": "quantitative",
              "scale": {"domain": [-4.7, 4.0], "nice": false, "zero": false},
              "axis": {"orient": "right", "values": [-2.5, 0, 2.5], "labels": false, "title": null, "tickSize": -21}
            }
          }
        }
      ]
    },
    {
      "width": 1860,
      "height": 596,
      "resolve": {"axis": {"x": "independent", "y": "independent"}},
      "layer": [
        {
          "data": {"name": "lines"},
          "mark": {"type": "rule", "color": "#808080", "strokeWidth": 3.5, "strokeDash": [3, 4]},
          "encoding": {
            "x": {"field": "x", "type": "quantitative", "scale": {"domain": [4, 15], "nice": false, "zero": false}, "axis": null},
            "y": {"field": "c", "type": "quantitative", "scale": {"type": "log", "domain": [0.0001, 0.0071], "nice": false}, "axis": null},
            "y2": {"datum": 0.0001}
          }
        },
        {
          "data": {"name": "continuum"},
          "mark": {"type": "line", "color": "#808080", "strokeWidth": 4, "clip": true},
          "encoding": {
            "x": {
              "field": "x", "type": "quantitative",
              "scale": {"domain": [4, 15], "nice": false, "zero": false},
              "axis": {"orient": "bottom", "values": [4,5,6,7,8,9,10,11,12,13,14,15],
                       "labelExpr": "datum.value % 2 == 0 ? datum.label : ''",
                       "labelPadding": 32,
                       "tickSize": {"condition": {"test": "datum.value % 2 == 0", "value": -21}, "value": -12},
                       "title": "Energy (keV)", "titlePadding": 3}
            },
            "y": {
              "field": "y", "type": "quantitative",
              "scale": {"type": "log", "domain": [0.0001, 0.0071], "nice": false},
              "axis": {"orient": "left",
                       "values": [0.0001,0.0002,0.0003,0.0004,0.0005,0.0006,0.0007,0.0008,0.0009,0.001,0.002,0.003,0.004,0.005,0.006],
                       "labelExpr": "datum.value == 0.001 ? '10⁻³' : (datum.value == 0.0001 ? '10⁻⁴' : '')",
                       "labelPadding": 33,
                       "tickSize": {"condition": {"test": "datum.value == 0.001 || datum.value == 0.0001", "value": -21}, "value": -12},
                       "title": "Photons s⁻¹ keV⁻¹ cm⁻²", "titleX": -138, "titleBaseline": "middle"}
            }
          }
        },
        {
          "data": {"name": "lines"},
          "mark": {"type": "rule", "color": "#808080", "strokeWidth": 4},
          "encoding": {
            "x": {
              "field": "x", "type": "quantitative",
              "scale": {"domain": [4, 15], "nice": false, "zero": false},
              "axis": {"orient": "top", "values": [4,5,6,7,8,9,10,11,12,13,14,15], "labels": false, "title": null,
                       "tickSize": {"condition": {"test": "datum.value % 2 == 0", "value": -21}, "value": -12}}
            },
            "y": {
              "field": "c", "type": "quantitative",
              "scale": {"type": "log", "domain": [0.0001, 0.0071], "nice": false},
              "axis": {"orient": "right",
                       "values": [0.0001,0.0002,0.0003,0.0004,0.0005,0.0006,0.0007,0.0008,0.0009,0.001,0.002,0.003,0.004,0.005,0.006],
                       "labels": false, "title": null,
                       "tickSize": {"condition": {"test": "datum.value == 0.001 || datum.value == 0.0001", "value": -21}, "value": -12}}
            },
            "y2": {"field": "p"}
          }
        }
      ]
    }
  ]
}
